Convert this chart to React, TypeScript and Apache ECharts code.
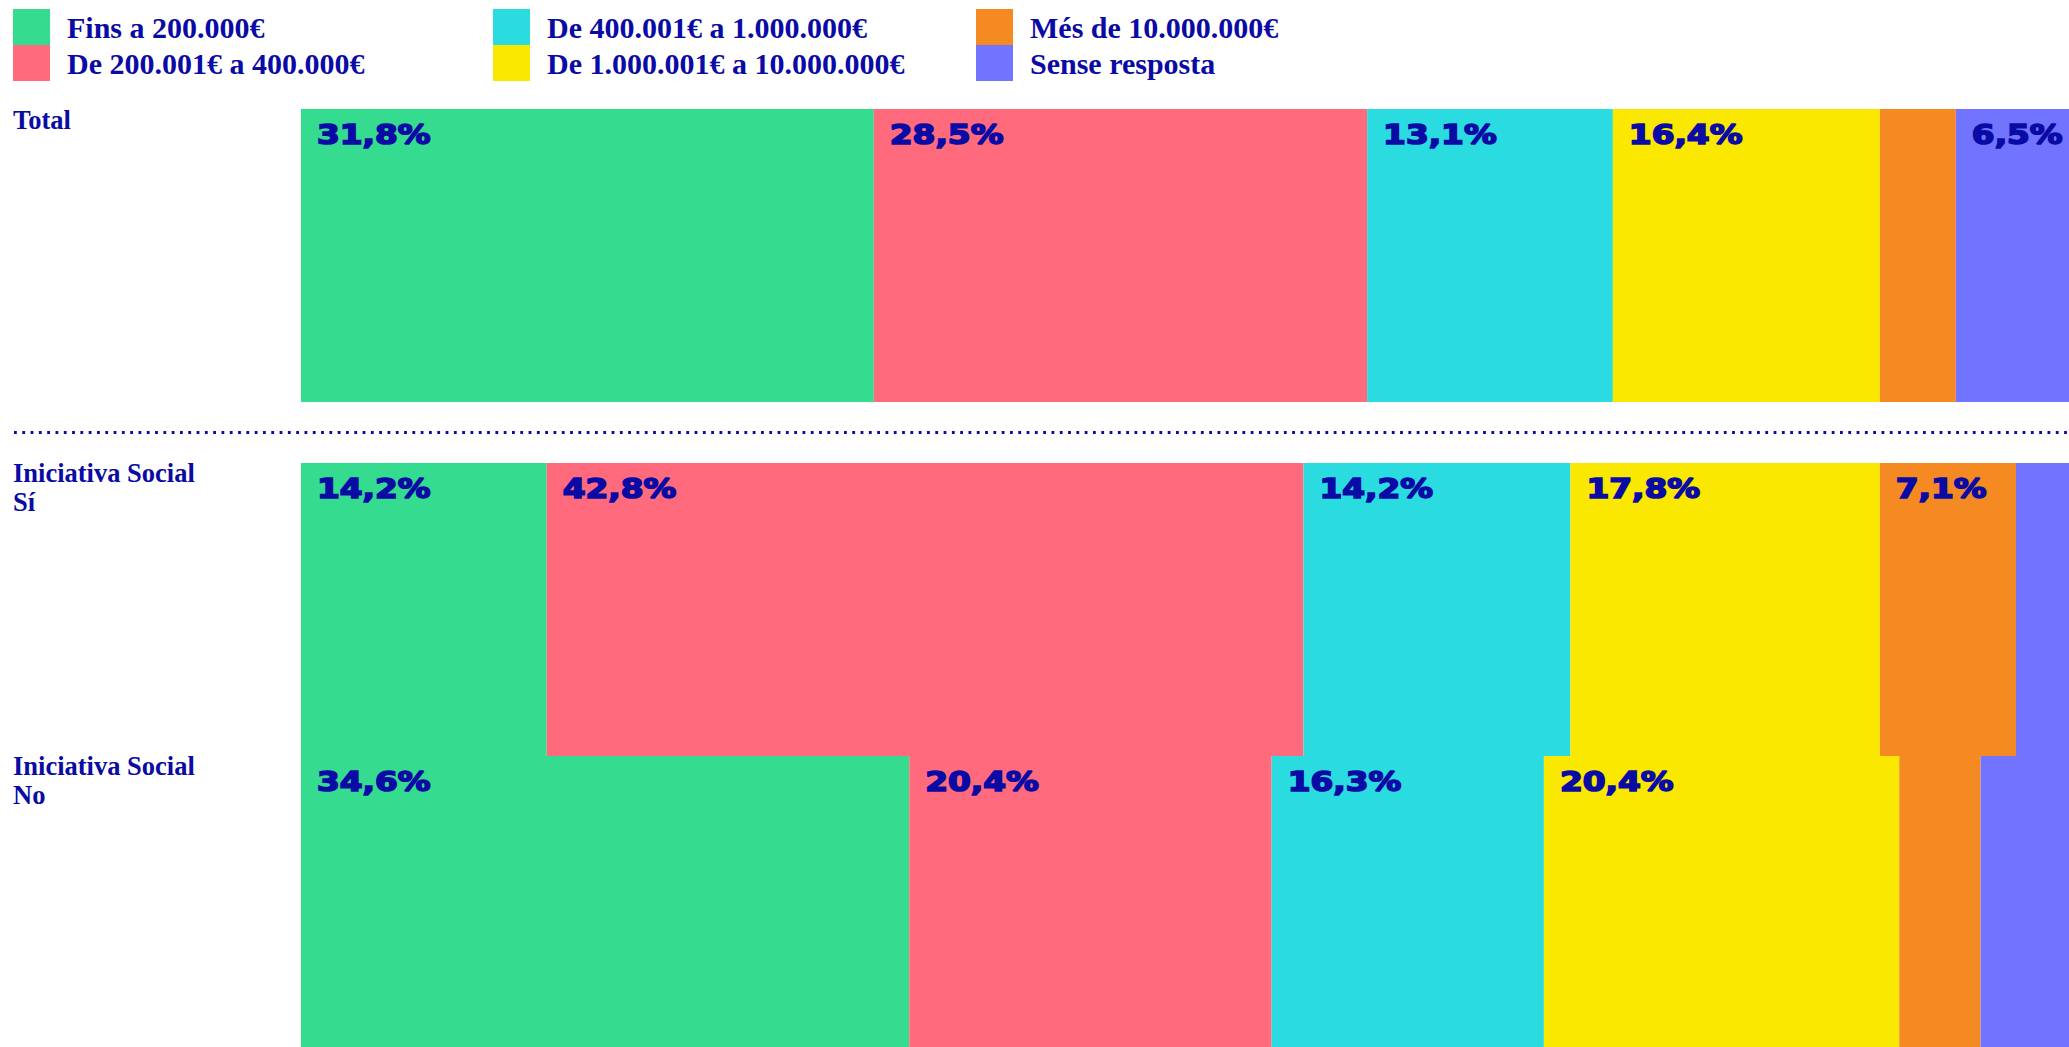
import React, { useEffect, useRef } from "react";
import * as echarts from "echarts";

const categories = [
  "Fins a 200.000€",
  "De 200.001€ a 400.000€",
  "De 400.001€ a 1.000.000€",
  "De 1.000.001€ a 10.000.000€",
  "Més de 10.000.000€",
  "Sense resposta",
];
const rowNames = ["Total", "Iniciativa Social\nSí", "Iniciativa Social\nNo"];

// segment shares, as drawn
const totalValues = [32.4, 27.9, 13.9, 15.1, 4.3, 6.4];
const siValues = [13.9, 42.8, 15.1, 17.5, 7.7, 3.0];
const noValues = [34.4, 20.5, 15.4, 20.1, 4.6, 5.0];

// printed labels
const totalLabels = ["31,8%", "28,5%", "13,1%", "16,4%", "", "6,5%"];
const siLabels = ["14,2%", "42,8%", "14,2%", "17,8%", "7,1%", ""];
const noLabels = ["34,6%", "20,4%", "16,3%", "20,4%", "", ""];

const colors = ["#35dc8f", "#ff6b7d", "#2adce0", "#fae800", "#f68a22", "#7074ff"];
const ink = "#0a0aa5";

export default function App() {
  const ref = useRef<HTMLDivElement>(null);
  useEffect(() => {
    if (!ref.current) return;
    const chart = echarts.init(ref.current, null, { renderer: "svg" });
    const rows = [totalValues, siValues, noValues];
    const labels = [totalLabels, siLabels, noLabels];
    const tops = [109, 463, 756];
    const grid = tops.map((t) => ({ left: 301, top: t, width: 1768, height: 293 }));
    const xAxis = tops.map((_, i) => ({ type: "value", gridIndex: i, min: 0, max: 100, show: false }));
    const yAxis = tops.map((_, i) => ({ type: "category", gridIndex: i, data: [rowNames[i]], show: false }));
    const series: any[] = [];
    rows.forEach((vals, g) => {
      vals.forEach((v, c) => {
        series.push({
          type: "bar",
          name: categories[c],
          stack: "g" + g,
          xAxisIndex: g,
          yAxisIndex: g,
          data: [v],
          barWidth: "100%",
          itemStyle: { color: colors[c] },
          silent: true,
        });
      });
      const starts: number[] = [];
      let acc = 0;
      vals.forEach((v) => {
        starts.push(acc);
        acc += v;
      });
      const labData: any[] = [];
      labels[g].forEach((l, c) => {
        if (l) labData.push({ value: [starts[c], 0], lab: l });
      });
      series.push({
        type: "custom",
        xAxisIndex: g,
        yAxisIndex: g,
        z: 10,
        silent: true,
        data: labData,
        encode: { x: 0, y: 1 },
        renderItem: (params: any, api: any) => {
          const item = labData[params.dataIndex];
          const p = api.coord([api.value(0), 0]);
          const band = api.size([0, 1])[1];
          const top = p[1] - band / 2;
          return {
            type: "text",
            x: p[0] + 16,
            y: top + 13,
            scaleX: 1.26,
            style: {
              text: item.lab,
              fill: ink,
              stroke: ink,
              lineWidth: 1.6,
              font: 'bold 26px "DejaVu Sans"',
              textVerticalAlign: "top",
              verticalAlign: "top",
            },
          };
        },
      });
    });
    const legendBase = {
      orient: "vertical",
      top: 9,
      padding: 0,
      itemGap: 0,
      itemWidth: 37,
      itemHeight: 36,
      icon: "rect",
      selectedMode: false,
      textStyle: {
        fontFamily: "Liberation Serif",
        fontWeight: "bold",
        fontSize: 30,
        color: ink,
        padding: [0, 0, 0, 12],
      },
    };
    const labelTops = [105.7, 458.7, 751.7];
    chart.setOption({
      animation: false,
      grid,
      xAxis,
      yAxis,
      legend: [
        { ...legendBase, left: 13, data: [categories[0], categories[1]] },
        { ...legendBase, left: 493, data: [categories[2], categories[3]] },
        { ...legendBase, left: 976, data: [categories[4], categories[5]] },
      ],
      graphic: [
        ...rowNames.map((n, i) => ({
          type: "text",
          left: 13,
          top: labelTops[i],
          style: {
            text: n,
            fill: ink,
            font: 'bold 26.5px "Liberation Serif"',
            lineHeight: 29,
          },
        })),
        {
          type: "line",
          shape: { x1: 14, y1: 432.5, x2: 2069, y2: 432.5 },
          style: { stroke: ink, lineWidth: 2.8, lineDash: [2.8, 5.5] },
        },
      ],
      series,
    });
    return () => chart.dispose();
  }, []);
  return (
    <div
      ref={ref}
      style={{ position: "fixed", left: 0, top: 0, width: 2069, height: 1047, background: "#fff" }}
    />
  );
}
